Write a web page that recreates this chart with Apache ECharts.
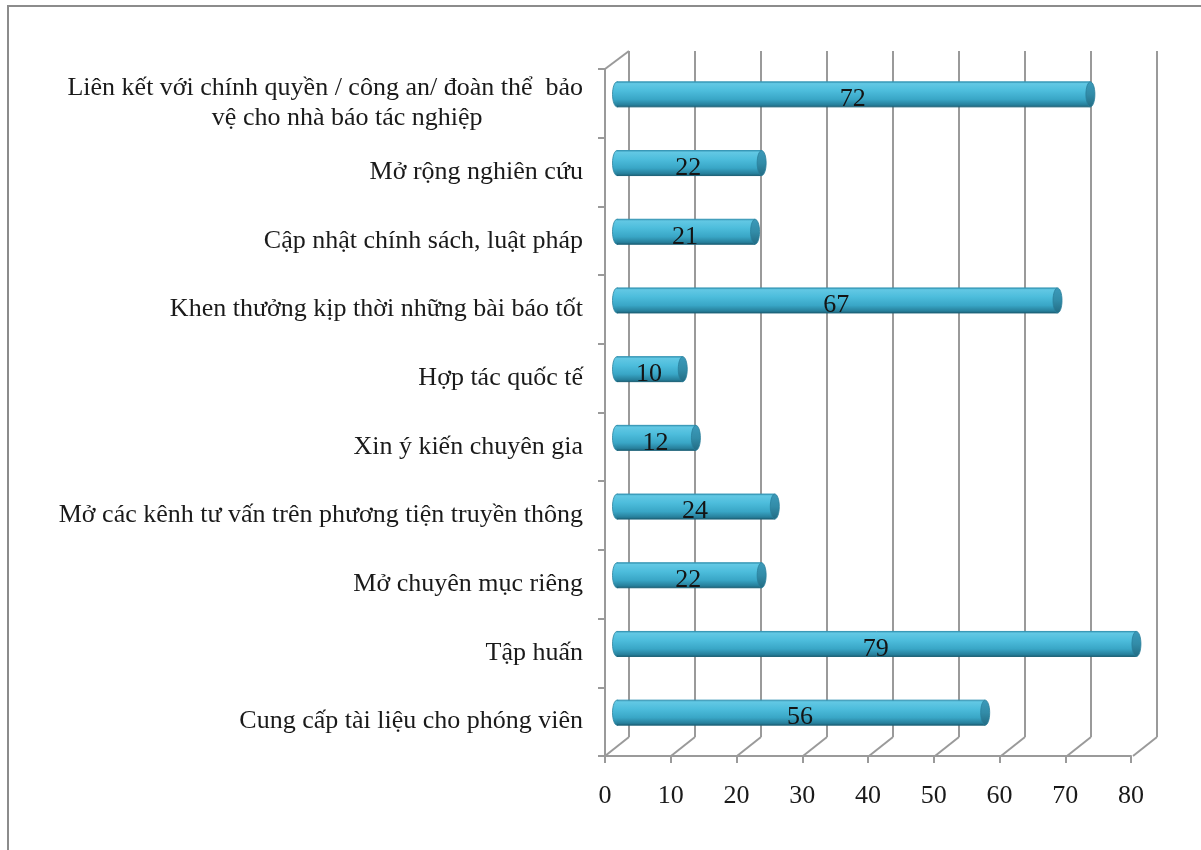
<!DOCTYPE html>
<html>
<head>
<meta charset="utf-8">
<script src="https://cdn.jsdelivr.net/npm/echarts@6/dist/echarts.min.js"></script>
<style>
  html, body { margin: 0; padding: 0; background: #ffffff; }
  #chart { width: 1201px; height: 850px; }
</style>
</head>
<body>
<div id="chart"></div>
<script>
// Categories, top to bottom
const categories = [
  'Liên kết với chính quyền / công an/ đoàn thể  bảo\nvệ cho nhà báo tác nghiệp',
  'Mở rộng nghiên cứu',
  'Cập nhật chính sách, luật pháp',
  'Khen thưởng kịp thời những bài báo tốt',
  'Hợp tác quốc tế',
  'Xin ý kiến chuyên gia',
  'Mở các kênh tư vấn trên phương tiện truyền thông',
  'Mở chuyên mục riêng',
  'Tập huấn',
  'Cung cấp tài liệu cho phóng viên'
];
const values = [72, 22, 21, 67, 10, 12, 24, 22, 79, 56];
const axisTicks = [0, 10, 20, 30, 40, 50, 60, 70, 80];

const FONT = '"Liberation Serif", "Times New Roman", serif';
const FONT_SIZE = 26;
const WALL = '#9a9a9a';
const DEPTH_X = 24, DEPTH_Y = 19;   // offset between back wall and front edge

const chart = echarts.init(document.getElementById('chart'), null, { renderer: 'canvas' });

// Cylinder bar: rounded left end, shaded body, darker end cap
function renderCylinder(params, api) {
  const cat = api.value(1);
  const s = api.coord([0, cat]);
  const e = api.coord([api.value(0), cat]);
  const h = 25, rx = 4.5;
  const cy = s[1];
  const top = cy - h / 2;
  const bodyFill = new echarts.graphic.LinearGradient(0, 0, 0, 1, [
    { offset: 0, color: '#3a9cbb' },
    { offset: 0.07, color: '#62c8e4' },
    { offset: 0.35, color: '#4dbddc' },
    { offset: 0.7, color: '#39a6c6' },
    { offset: 0.92, color: '#27809c' },
    { offset: 1, color: '#1d657c' }
  ]);
  const capFill = new echarts.graphic.LinearGradient(0, 0, 0, 1, [
    { offset: 0, color: '#3c9aba' },
    { offset: 0.5, color: '#328ca8' },
    { offset: 1, color: '#226b83' }
  ]);
  return {
    type: 'group',
    children: [
      { type: 'ellipse', shape: { cx: s[0], cy: cy, rx: rx, ry: h / 2 },
        style: { fill: bodyFill, stroke: '#2a84a0', lineWidth: 0.8 } },
      { type: 'rect', shape: { x: s[0], y: top, width: e[0] - s[0], height: h },
        style: { fill: bodyFill } },
      { type: 'line', shape: { x1: s[0], y1: top, x2: e[0], y2: top },
        style: { stroke: '#3596b5', lineWidth: 1 } },
      { type: 'line', shape: { x1: s[0], y1: top + h, x2: e[0], y2: top + h },
        style: { stroke: '#1d6279', lineWidth: 1 } },
      { type: 'ellipse', shape: { cx: e[0], cy: cy, rx: rx, ry: h / 2 },
        style: { fill: capFill, stroke: '#2a7f9a', lineWidth: 0.8 } },
      { type: 'text', x: (s[0] + e[0]) / 2 - 1, y: cy + 5,
        style: { text: String(api.value(0)), fill: '#141414', font: FONT_SIZE + 'px ' + FONT,
                 align: 'center', verticalAlign: 'middle' } }
    ]
  };
}

// Floor lines joining the back wall grid to the front axis ticks
function renderFloor(params, api) {
  const p = api.coord([api.value(0), 0]);
  return { type: 'line', shape: { x1: p[0], y1: p[1], x2: p[0] - DEPTH_X, y2: p[1] + DEPTH_Y },
           style: { stroke: WALL, lineWidth: 2 } };
}
// Top edge of the left wall
function renderWallTop(params, api) {
  const p = api.coord([0, 1]);
  return { type: 'line', shape: { x1: p[0], y1: p[1], x2: p[0] - DEPTH_X, y2: p[1] + DEPTH_Y - 1 },
           style: { stroke: WALL, lineWidth: 2 } };
}

function labelFormatter(v) {
  if (v.indexOf('\n') < 0) return v;
  const lines = v.split('\n');
  return '{l1|' + lines[0] + '}\n{l2|' + lines[1] + '}';
}

const labelStyle = { fontFamily: FONT, fontSize: FONT_SIZE, color: '#1a1a1a' };

const option = {
  backgroundColor: '#ffffff',
  animation: false,
  graphic: [
    { type: 'polyline', shape: { points: [[8, 850], [8, 6], [1201, 6]] },
      style: { stroke: '#8c8c8c', lineWidth: 2, fill: null }, silent: true }
  ],
  grid: [
    { left: 605, top: 69, width: 526, height: 687 },   // front edges, labels
    { left: 629, top: 51, width: 528, height: 686 },   // back wall
    { left: 617, top: 60, width: 526, height: 687 }    // bar plane
  ],
  xAxis: [
    { gridIndex: 0, type: 'value', min: 0, max: 80, interval: 10,
      axisLine: { show: true, lineStyle: { color: WALL, width: 2 } },
      axisTick: { show: true, length: 7, lineStyle: { color: WALL, width: 2 } },
      splitLine: { show: false },
      axisLabel: Object.assign({ margin: 27, formatter: v => axisTicks.indexOf(v) >= 0 ? String(v) : '' }, labelStyle) },
    { gridIndex: 1, type: 'value', min: 0, max: 80, interval: 10,
      axisLine: { show: false }, axisTick: { show: false }, axisLabel: { show: false },
      splitLine: { show: true, lineStyle: { color: WALL, width: 2 } } },
    { gridIndex: 2, type: 'value', min: 0, max: 80, show: false }
  ],
  yAxis: [
    { gridIndex: 0, type: 'category', data: categories, inverse: true,
      axisLine: { show: true, lineStyle: { color: WALL, width: 2 } },
      axisTick: { show: true, length: 7, lineStyle: { color: WALL, width: 2 } },
      splitLine: { show: false },
      axisLabel: Object.assign({
        margin: 22, align: 'right', lineHeight: 30, formatter: labelFormatter,
        rich: {
          l1: Object.assign({ align: 'center', lineHeight: 30 }, labelStyle),
          l2: Object.assign({ align: 'center', lineHeight: 30, padding: [0, 0, 0, 44] }, labelStyle)
        }
      }, labelStyle) },
    { gridIndex: 1, type: 'value', min: 0, max: 1, show: false },
    { gridIndex: 2, type: 'category', data: categories, inverse: true, show: false }
  ],
  series: [
    { type: 'custom', xAxisIndex: 1, yAxisIndex: 1, renderItem: renderFloor,
      data: axisTicks.map(t => [t, 0]), encode: { x: 0, y: 1 }, silent: true, z: 1 },
    { type: 'custom', xAxisIndex: 1, yAxisIndex: 1, renderItem: renderWallTop,
      data: [[0, 1]], encode: { x: 0, y: 1 }, silent: true, z: 1 },
    { type: 'custom', xAxisIndex: 2, yAxisIndex: 2, renderItem: renderCylinder,
      data: values.map((v, i) => [v, i]), encode: { x: 0, y: 1 }, z: 5 }
  ]
};

chart.setOption(option);
</script>
</body>
</html>
